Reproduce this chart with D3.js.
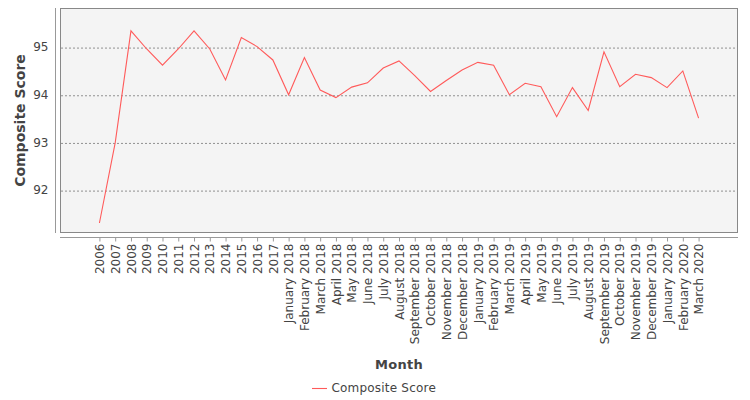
<!DOCTYPE html>
<html>
<head>
<meta charset="utf-8">
<script src="https://cdn.jsdelivr.net/npm/d3@7"></script>
<style>
	body { margin: 0; background: #ffffff; }
	text { font-family: "DejaVu Sans", sans-serif; fill: #444444; }
	.line { fill: none; stroke: #ff5a5a; stroke-width: 1.1; }
	.grid line { stroke: #777777; stroke-dasharray: 2,2; stroke-width: 0.8; }
</style>
</head>
<body>
<div id="chart"></div>
<script>

// Categories along the x axis
let months = [
	"2006", "2007", "2008", "2009", "2010", "2011", "2012", "2013", "2014", "2015", "2016", "2017",
	"January 2018", "February 2018", "March 2018", "April 2018", "May 2018", "June 2018",
	"July 2018", "August 2018", "September 2018", "October 2018", "November 2018", "December 2018",
	"January 2019", "February 2019", "March 2019", "April 2019", "May 2019", "June 2019",
	"July 2019", "August 2019", "September 2019", "October 2019", "November 2019", "December 2019",
	"January 2020", "February 2020", "March 2020"
];

// Composite score for each category
let compositeScore = [
	91.31, 92.99, 95.34, 94.96, 94.62, 94.96, 95.34, 94.96, 94.31, 95.20, 95.01, 94.73,
	94.00, 94.78, 94.10, 93.94, 94.16, 94.25,
	94.56, 94.71, 94.40, 94.07, 94.30, 94.52,
	94.68, 94.62, 94.00, 94.24, 94.17, 93.54,
	94.15, 93.67, 94.90, 94.17, 94.43, 94.36,
	94.15, 94.50, 93.51
];

let yTicks = [92, 93, 94, 95];

function chart(width, height, selector) {

	let datapoints = months.map((m, i) => ({ month: m, score: compositeScore[i] }));

	///////////////////////////////////////////
	//// Dimensions, scales and generators ////
	///////////////////////////////////////////

	let plot = { left: 60, top: 8, right: 738, bottom: 233 };

	let xPositionScale = d3.scalePoint()
		.domain(months)
		.range([plot.left, plot.right])
		.padding(2.5);

	let yPositionScale = d3.scaleLinear()
		.domain([91.1, 95.82])
		.range([plot.bottom, plot.top]);

	let scoreLine = d3.line()
		.x(d => xPositionScale(d.month))
		.y(d => yPositionScale(d.score));

	//////////////////////////
	/// Building the chart ///
	//////////////////////////

	let svg = d3.select(selector)
		.append("svg")
		.attr("width", width)
		.attr("height", height);

	// Plot background
	svg.append("rect")
		.attr("x", plot.left + 0.5)
		.attr("y", plot.top + 0.5)
		.attr("width", plot.right - plot.left - 1)
		.attr("height", plot.bottom - plot.top - 1)
		.attr("fill", "#f4f4f4")
		.attr("stroke", "#888888");

	// Dashed grid lines
	svg.append("g")
		.attr("class", "grid")
		.attr("transform", "translate(" + (plot.left + 1) + ",0)")
		.call(d3.axisLeft(yPositionScale)
			.tickValues(yTicks)
			.tickSize(-(plot.right - plot.left - 2))
			.tickFormat(""))
		.call(g => g.select(".domain").remove())
		.selectAll(".tick line")
		.attr("transform", "translate(0,0.5)");

	// The score line
	svg.append("path")
		.datum(datapoints)
		.attr("class", "line")
		.attr("d", scoreLine);

	// Y axis, set off from the plot
	let yAxis = d3.axisLeft(yPositionScale)
		.tickValues(yTicks)
		.tickSize(0)
		.tickPadding(7)
		.tickFormat(d3.format("d"));

	let yAxisG = svg.append("g")
		.attr("class", "axis y-axis")
		.attr("transform", "translate(55.5,0)")
		.call(yAxis);

	yAxisG.select(".domain")
		.attr("stroke", "#999999")
		.attr("d", "M0," + plot.top + "V" + plot.bottom);

	yAxisG.selectAll(".tick text")
		.attr("font-family", "DejaVu Sans")
		.attr("font-size", 12)
		.attr("fill", "#444444");

	// X axis, set off from the plot
	let xAxis = d3.axisBottom(xPositionScale)
		.tickSize(4)
		.tickPadding(6);

	let xAxisG = svg.append("g")
		.attr("class", "axis x-axis")
		.attr("transform", "translate(0,237.5)")
		.call(xAxis);

	xAxisG.select(".domain")
		.attr("stroke", "#999999")
		.attr("d", "M" + plot.left + ",0H" + plot.right);

	xAxisG.selectAll(".tick line")
		.attr("stroke", "#999999");

	// Rotate the month labels so they read upwards
	xAxisG.selectAll(".tick text")
		.attr("font-family", "DejaVu Sans")
		.attr("font-size", 12)
		.attr("fill", "#444444")
		.attr("text-anchor", "end")
		.attr("transform", "rotate(-90)")
		.attr("x", -6)
		.attr("y", 0)
		.attr("dy", "0.35em");

	// Axis titles
	svg.append("text")
		.text("Composite Score")
		.attr("transform", "translate(25," + ((plot.top + plot.bottom) / 2) + ") rotate(-90)")
		.attr("text-anchor", "middle")
		.attr("font-size", 14)
		.attr("font-weight", "bold");

	svg.append("text")
		.text("Month")
		.attr("x", (plot.left + plot.right) / 2)
		.attr("y", 369)
		.attr("text-anchor", "middle")
		.attr("font-size", 13)
		.attr("font-weight", "bold")
		.attr("letter-spacing", 0.3);

	// Legend
	let legend = svg.append("g")
		.attr("transform", "translate(312,388)");

	legend.append("line")
		.attr("x1", 0)
		.attr("x2", 15)
		.attr("y1", 0.5)
		.attr("y2", 0.5)
		.attr("stroke", "#ff5a5a")
		.attr("stroke-width", 1.1);

	legend.append("text")
		.text("Composite Score")
		.attr("x", 19.5)
		.attr("y", 4)
		.attr("font-size", 12)
		.attr("letter-spacing", 0.2);
}

chart(750, 400, "#chart");
</script>
</body>
</html>
